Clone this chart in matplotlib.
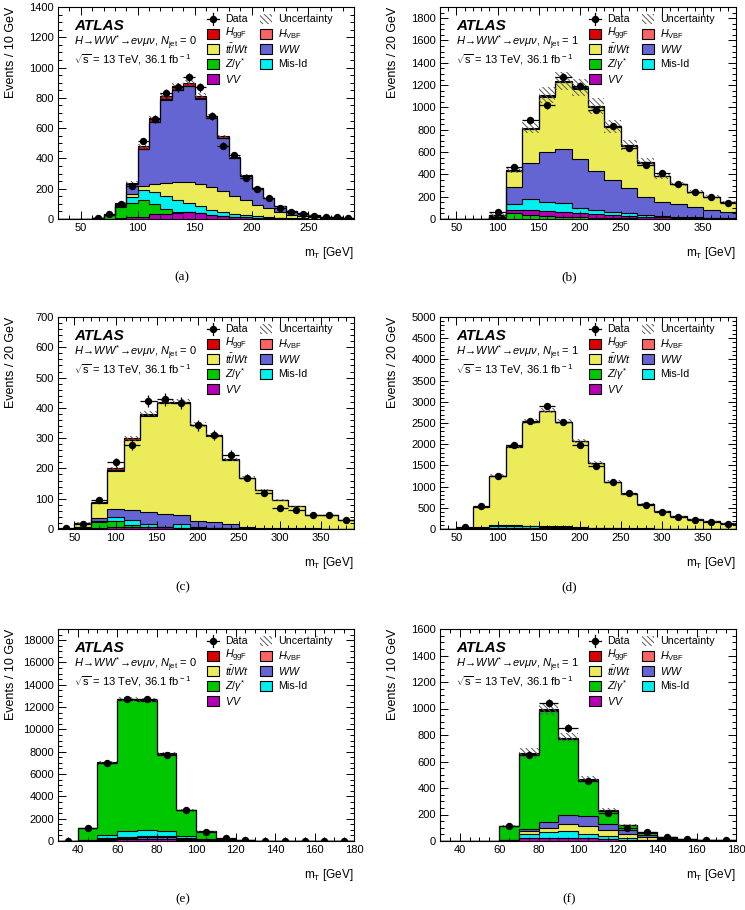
import numpy as np
import matplotlib
matplotlib.use("Agg")
import matplotlib.pyplot as plt
import matplotlib.patches as mpatches
from matplotlib.ticker import MultipleLocator, AutoMinorLocator

plt.rcParams['font.family'] = ['Liberation Sans', 'DejaVu Sans']
plt.rcParams['mathtext.fontset'] = 'custom'
plt.rcParams['mathtext.rm'] = 'Liberation Sans'
plt.rcParams['mathtext.it'] = 'Liberation Sans:italic'
plt.rcParams['mathtext.bf'] = 'Liberation Sans:bold'
plt.rcParams['hatch.linewidth'] = 0.7

# ---- panel (a): WW CR, Njet = 0, 10 GeV bins 30-290
A_EDGES = np.arange(30, 291, 10)
A_DATA = [0, 0, 0, 5, 35, 100, 215, 515, 660, 830, 870, 935, 870, 680, 485, 425, 270, 200, 140, 70, 45, 35, 22, 12, 10, 5]
A_VV = [0, 0, 0, 1, 2, 5, 10, 15, 35, 35, 40, 45, 40, 28, 20, 15, 10, 8, 5, 4, 3, 2, 1, 1, 0, 0]
A_ZJ = [0, 0, 0, 3, 23, 73, 95, 110, 65, 30, 8, 2, 1, 1, 0, 0, 0, 0, 0, 0, 0, 0, 0, 0, 0, 0]
A_MISID = [0, 0, 0, 0, 2, 7, 43, 65, 76, 85, 77, 58, 44, 33, 28, 20, 15, 10, 7, 4, 3, 2, 1, 1, 0, 0]
A_TOP = [0, 0, 0, 0, 1, 5, 14, 30, 53, 90, 117, 137, 144, 152, 139, 119, 101, 77, 58, 36, 23, 16, 10, 6, 5, 3]
A_WW = [0, 0, 0, 1, 1, 12, 70, 241, 412, 548, 611, 634, 566, 453, 349, 250, 160, 108, 69, 40, 26, 20, 13, 7, 7, 5]
A_HGGF = [0, 0, 0, 0, 1, 3, 8, 18, 22, 25, 25, 22, 18, 12, 8, 5, 3, 2, 1, 1, 0, 0, 0, 0, 0, 0]
A_HVBF = [0, 0, 0, 0, 0, 0, 0, 1, 2, 2, 2, 2, 2, 1, 1, 1, 1, 0, 0, 0, 0, 0, 0, 0, 0, 0]
A_UNC = [0, 0, 0, 1, 3, 6, 10, 15, 18, 20, 20, 20, 18, 15, 12, 10, 8, 6, 5, 4, 3, 2, 2, 1, 1, 1]

# ---- panel (b): top CR, Njet = 1, 20 GeV bins 30-390
B_EDGES = np.arange(30, 391, 20)
B_DATA = [0, 0, 0, 60, 465, 885, 1020, 1270, 1195, 980, 835, 640, 480, 415, 310, 240, 195, 145]
B_ZJ = [0, 0, 0, 12, 50, 35, 25, 20, 15, 12, 8, 6, 4, 3, 2, 2, 1, 1]
B_VV = [0, 0, 0, 4, 35, 50, 50, 45, 35, 33, 27, 22, 16, 12, 8, 6, 5, 4]
B_MISID = [0, 0, 0, 4, 50, 90, 75, 75, 45, 35, 25, 22, 15, 10, 7, 6, 5, 4]
B_WW = [0, 0, 0, 10, 155, 325, 454, 485, 440, 354, 290, 231, 165, 125, 117, 93, 70, 57]
B_TOP = [0, 0, 0, 9, 141, 309, 492, 601, 633, 566, 473, 374, 306, 232, 176, 134, 119, 84]
B_HGGF = [0, 0, 0, 1, 8, 10, 12, 12, 10, 8, 6, 4, 3, 2, 2, 1, 1, 1]
B_HVBF = [0, 0, 0, 0, 1, 1, 2, 2, 2, 2, 1, 1, 1, 1, 0, 0, 0, 0]
B_UNC = [0, 0, 0, 20, 30, 50, 70, 80, 75, 70, 55, 45, 35, 25, 20, 15, 12, 10]

# ---- panel (c): top CR, Njet = 0
C_EDGES = np.arange(30, 391, 20)
C_DATA = [2, 18, 95, 220, 278, 422, 428, 415, 343, 310, 245, 170, 120, 68, 62, 46, 45, 30]
C_VV = [0, 1, 2, 5, 5, 5, 5, 4, 3, 2, 1, 1, 0, 0, 0, 0, 0, 0]
C_ZJ = [0, 2, 20, 20, 7, 3, 0, 0, 0, 0, 0, 0, 0, 0, 0, 0, 0, 0]
C_MISID = [0, 2, 6, 15, 18, 7, 3, 11, 2, 2, 2, 1, 1, 1, 0, 0, 0, 0]
C_WW = [0, 3, 7, 25, 32, 42, 42, 30, 20, 18, 12, 3, 3, 2, 2, 2, 1, 1]
C_TOP = [0, 12, 52, 128, 231, 317, 365, 371, 317, 286, 214, 164, 126, 92, 73, 43, 44, 29]
C_HGGF = [0, 0, 3, 6, 6, 5, 4, 3, 2, 2, 1, 1, 0, 0, 0, 0, 0, 0]
C_HVBF = [0, 0, 0, 1, 1, 1, 1, 1, 1, 0, 0, 0, 0, 0, 0, 0, 0, 0]
C_UNC = [0, 2, 4, 6, 8, 8, 8, 8, 7, 6, 5, 4, 3, 3, 2, 2, 2, 1]

# ---- panel (d): top CR, Njet = 1 (b-tagged)
D_EDGES = np.arange(30, 391, 20)
D_DATA = [0, 40, 540, 1260, 1990, 2540, 2910, 2530, 1990, 1490, 1100, 840, 570, 400, 280, 220, 175, 110]
D_ZJ = [0, 2, 10, 10, 10, 8, 6, 5, 4, 3, 2, 2, 1, 1, 1, 0, 0, 0]
D_VV = [0, 1, 5, 10, 12, 12, 12, 10, 8, 6, 4, 3, 2, 2, 1, 1, 1, 1]
D_MISID = [0, 2, 15, 50, 45, 40, 40, 30, 15, 10, 8, 5, 3, 2, 2, 1, 1, 1]
D_WW = [0, 2, 10, 20, 20, 22, 20, 18, 15, 12, 10, 8, 6, 5, 4, 3, 2, 2]
D_TOP = [0, 13, 488, 1164, 1856, 2441, 2705, 2461, 2023, 1526, 1094, 801, 587, 409, 292, 225, 176, 126]
D_HGGF = [0, 0, 2, 5, 6, 6, 6, 5, 4, 3, 2, 1, 1, 1, 0, 0, 0, 0]
D_HVBF = [0, 0, 0, 1, 1, 1, 1, 1, 1, 0, 0, 0, 0, 0, 0, 0, 0, 0]
D_UNC = [0, 5, 20, 40, 50, 55, 60, 55, 50, 40, 30, 25, 20, 15, 10, 8, 7, 5]

# ---- panel (e): Z CR, Njet = 0, 10 GeV bins 30-180
E_EDGES = np.arange(30, 181, 10)
E_DATA = [5, 1150, 6980, 12700, 12750, 7700, 2780, 850, 280, 80, 30, 20, 15, 10, 8]
E_VV = [0, 20, 100, 150, 200, 180, 100, 30, 10, 5, 2, 1, 1, 0, 0]
E_WW = [0, 20, 100, 150, 200, 200, 100, 40, 15, 8, 4, 2, 1, 1, 1]
E_TOP = [0, 10, 50, 60, 70, 60, 40, 15, 10, 5, 3, 2, 1, 1, 1]
E_MISID = [0, 50, 300, 550, 500, 450, 250, 70, 20, 5, 2, 1, 1, 1, 0]
E_ZJ = [0, 1045, 6485, 11765, 11600, 6935, 2295, 717, 142, 56, 19, 9, 6, 5, 4]
E_HGGF = [0, 5, 15, 25, 30, 25, 15, 8, 3, 1, 0, 0, 0, 0, 0]
E_HVBF = [0, 0, 0, 0, 0, 0, 0, 0, 0, 0, 0, 0, 0, 0, 0]
E_UNC = [0, 40, 100, 180, 180, 120, 60, 30, 10, 5, 3, 2, 1, 1, 1]

# ---- panel (f): Z CR, Njet = 1
F_EDGES = np.arange(30, 181, 10)
F_DATA = [0, 0, 0, 115, 650, 1040, 855, 455, 210, 95, 65, 28, 18, 5, 8]
F_VV = [0, 0, 0, 3, 25, 25, 25, 20, 15, 10, 5, 3, 1, 1, 0]
F_MISID = [0, 0, 0, 2, 30, 40, 50, 30, 20, 10, 5, 2, 1, 1, 1]
F_TOP = [0, 0, 0, 2, 20, 35, 50, 65, 45, 35, 20, 10, 5, 3, 2]
F_WW = [0, 0, 0, 3, 15, 40, 70, 70, 45, 25, 15, 7, 4, 2, 2]
F_ZJ = [0, 0, 2, 104, 568, 844, 574, 271, 104, 38, 19, 8, 4, 3, 3]
F_HGGF = [0, 0, 0, 1, 6, 10, 10, 8, 5, 2, 1, 0, 0, 0, 0]
F_HVBF = [0, 0, 0, 0, 1, 1, 1, 1, 1, 0, 0, 0, 0, 0, 0]
F_UNC = [0, 0, 1, 8, 35, 45, 35, 22, 12, 8, 5, 3, 2, 1, 1]

COL = {
    'hggf': '#DC0000', 'hvbf': '#FA6464', 'top': '#ECEC5A', 'ww': '#6464D2',
    'zj': '#00C800', 'misid': '#00F0F0', 'vv': '#B400B4',
}
LABEL = {
    'hggf': r'$H_{\rm ggF}$', 'hvbf': r'$H_{\rm VBF}$', 'top': r'$t\bar{t}/Wt$',
    'ww': r'$WW$', 'zj': r'$Z/\gamma^{*}$', 'misid': 'Mis-Id', 'vv': r'$VV$',
}
HATCH = '\\\\\\\\\\\\'
HATCH_COL = '#5a5a5a'

fig = plt.figure(figsize=(7.45, 9.10), dpi=100)

AX_W_PX, AX_H_PX = 296, 212
L, R, W = 58 / 745, 440 / 745, AX_W_PX / 745
H = AX_H_PX / 910
rows = [1 - 219 / 910, 1 - 529 / 910, 1 - 841 / 910]

# legend layout (pixels from axes left / top)
LEG_ROWS_PX = [12, 27, 42, 57, 72]
LEG_COLS_PX = [149, 202]
LEG_COL1 = ['data', 'hggf', 'top', 'zj', 'vv']
LEG_COL2 = ['unc', 'hvbf', 'ww', 'misid']


def draw_legend(ax):
    bw, bh = 12 / AX_W_PX, 10 / AX_H_PX
    for ci, col in enumerate([LEG_COL1, LEG_COL2]):
        x0 = LEG_COLS_PX[ci] / AX_W_PX
        for ri, key in enumerate(col):
            yc = 1 - LEG_ROWS_PX[ri] / AX_H_PX
            if key == 'data':
                xc = x0 + bw / 2
                ax.plot([x0, x0 + bw], [yc, yc], color='k', lw=0.9, transform=ax.transAxes,
                        clip_on=False, zorder=6)
                ax.plot([xc, xc], [yc - bh * 0.6, yc + bh * 0.6], color='k', lw=0.9,
                        transform=ax.transAxes, clip_on=False, zorder=6)
                ax.plot([xc], [yc], 'o', color='k', ms=4.3, transform=ax.transAxes,
                        clip_on=False, zorder=6)
                text = 'Data'
            elif key == 'unc':
                ax.add_patch(mpatches.Rectangle((x0, yc - bh / 2), bw, bh, facecolor='white',
                                                edgecolor=HATCH_COL, hatch=HATCH, lw=0,
                                                transform=ax.transAxes, zorder=6))
                text = 'Uncertainty'
            else:
                ax.add_patch(mpatches.Rectangle((x0, yc - bh / 2), bw, bh, facecolor=COL[key],
                                                edgecolor='k', lw=0.8,
                                                transform=ax.transAxes, zorder=6))
                text = LABEL[key]
            ax.text(x0 + bw + 6 / AX_W_PX, yc, text, transform=ax.transAxes, fontsize=7.7,
                    va='center', ha='left', zorder=6)


def draw_panel(pos, edges, layers, data, unc, xlim, ylim, xmaj, xmin_n, ymaj, ymin_n,
               ylabel, njet, tag, capx):
    ax = fig.add_axes(pos)
    edges = np.asarray(edges, float)
    nb = len(edges) - 1
    base = np.zeros(nb)
    for key, vals in layers:
        top = base + np.asarray(vals, float)
        ax.stairs(top, edges, baseline=base, fill=True, facecolor=COL[key], lw=0, zorder=1)
        base = top
    cum = np.zeros(nb)
    for key, vals in layers:
        cum = cum + np.asarray(vals, float)
        ax.stairs(cum, edges, baseline=0, color='k', lw=0.8, zorder=2)
    total = cum
    unc = np.asarray(unc, float)
    ax.stairs(total + unc, edges, baseline=total - unc, fill=True, facecolor='none',
              edgecolor=HATCH_COL, hatch=HATCH, lw=0, zorder=3)

    data = np.asarray(data, float)
    centers = 0.5 * (edges[1:] + edges[:-1])
    half = 0.5 * (edges[1:] - edges[:-1])
    m = data > 0
    ax.errorbar(centers[m], data[m], xerr=half[m], yerr=np.sqrt(data[m]), fmt='o',
                color='k', ms=4.3, lw=0.9, capsize=0, zorder=5)

    ax.set_xlim(*xlim)
    ax.set_ylim(*ylim)
    ax.xaxis.set_major_locator(MultipleLocator(xmaj))
    ax.xaxis.set_minor_locator(AutoMinorLocator(xmin_n))
    ax.yaxis.set_major_locator(MultipleLocator(ymaj))
    ax.yaxis.set_minor_locator(AutoMinorLocator(ymin_n))
    ax.tick_params(which='both', direction='in', top=True, right=True, labelsize=8,
                   width=0.7, pad=3)
    ax.tick_params(which='major', length=6)
    ax.tick_params(which='minor', length=3)
    for s in ax.spines.values():
        s.set_linewidth(0.8)

    ax.text(1.0, -0.16, r'm$_{\rm T}$ [GeV]', transform=ax.transAxes, ha='right',
            va='center', fontsize=8.5)
    ax.text(-0.16, 1.0, ylabel, transform=ax.transAxes, rotation=90, ha='center',
            va='top', fontsize=9)
    ax.text(capx, -0.275, tag, transform=ax.transAxes, ha='center', va='center',
            fontsize=9.5, family='Liberation Serif')

    ax.text(0.055, 0.912, 'ATLAS', transform=ax.transAxes, fontsize=11,
            fontweight='bold', fontstyle='italic', va='center')
    ax.text(0.055, 0.83,
            r'$H\!\rightarrow\!WW^{*}\!\rightarrow\!e\nu\mu\nu$, $N_{\rm jet}$ = ' + njet,
            transform=ax.transAxes, fontsize=8, va='center')
    ax.text(0.055, 0.75, r'$\sqrt{\rm s}$ = 13 TeV, 36.1 fb$^{\rm -1}$',
            transform=ax.transAxes, fontsize=8, va='center')
    draw_legend(ax)
    return ax


draw_panel([L, rows[0], W, H], A_EDGES,
           [('vv', A_VV), ('zj', A_ZJ), ('misid', A_MISID), ('top', A_TOP), ('ww', A_WW),
            ('hvbf', A_HVBF), ('hggf', A_HGGF)],
           A_DATA, A_UNC, (30, 290), (0, 1400), 50, 5, 200, 4,
           'Events / 10 GeV', '0', '(a)', 0.42)

draw_panel([R, rows[0], W, H], B_EDGES,
           [('zj', B_ZJ), ('vv', B_VV), ('misid', B_MISID), ('ww', B_WW), ('top', B_TOP),
            ('hvbf', B_HVBF), ('hggf', B_HGGF)],
           B_DATA, B_UNC, (30, 390), (0, 1900), 50, 5, 200, 4,
           'Events / 20 GeV', '1', '(b)', 0.435)

draw_panel([L, rows[1], W, H], C_EDGES,
           [('vv', C_VV), ('zj', C_ZJ), ('misid', C_MISID), ('ww', C_WW), ('top', C_TOP),
            ('hvbf', C_HVBF), ('hggf', C_HGGF)],
           C_DATA, C_UNC, (30, 390), (0, 700), 50, 5, 100, 5,
           'Events / 20 GeV', '0', '(c)', 0.42)

draw_panel([R, rows[1], W, H], D_EDGES,
           [('zj', D_ZJ), ('vv', D_VV), ('misid', D_MISID), ('ww', D_WW), ('top', D_TOP),
            ('hvbf', D_HVBF), ('hggf', D_HGGF)],
           D_DATA, D_UNC, (30, 390), (0, 5000), 50, 5, 500, 5,
           'Events / 20 GeV', '1', '(d)', 0.435)

draw_panel([L, rows[2], W, H], E_EDGES,
           [('vv', E_VV), ('ww', E_WW), ('top', E_TOP), ('misid', E_MISID), ('zj', E_ZJ),
            ('hvbf', E_HVBF), ('hggf', E_HGGF)],
           E_DATA, E_UNC, (30, 180), (0, 19000), 20, 4, 2000, 4,
           'Events / 10 GeV', '0', '(e)', 0.42)

draw_panel([R, rows[2], W, H], F_EDGES,
           [('vv', F_VV), ('misid', F_MISID), ('top', F_TOP), ('ww', F_WW), ('zj', F_ZJ),
            ('hvbf', F_HVBF), ('hggf', F_HGGF)],
           F_DATA, F_UNC, (30, 180), (0, 1600), 20, 4, 200, 4,
           'Events / 10 GeV', '1', '(f)', 0.435)

fig.savefig('out.png', dpi=100)
